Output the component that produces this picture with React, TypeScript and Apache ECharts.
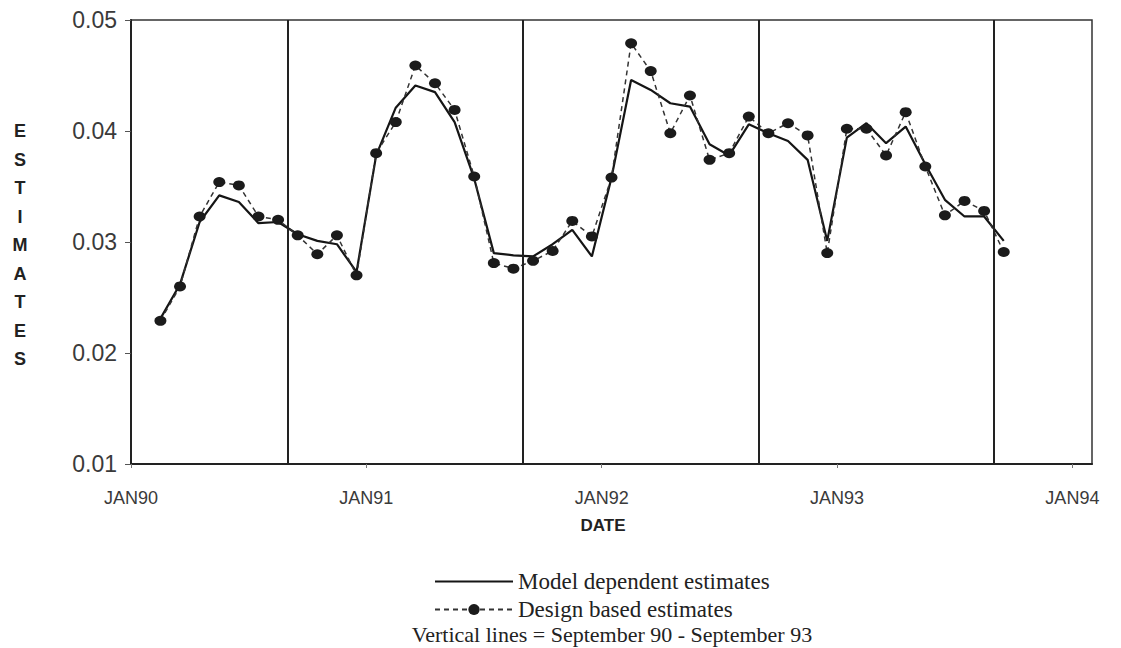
import React, { useEffect, useRef } from "react";
import * as echarts from "echarts";

// Observation months (mid-month points)
const months = [
  "1990-02", "1990-03", "1990-04", "1990-05", "1990-06", "1990-07", "1990-08", "1990-09", "1990-10", "1990-11", "1990-12",
  "1991-01", "1991-02", "1991-03", "1991-04", "1991-05", "1991-06", "1991-07", "1991-08", "1991-09", "1991-10", "1991-11", "1991-12",
  "1992-01", "1992-02", "1992-03", "1992-04", "1992-05", "1992-06", "1992-07", "1992-08", "1992-09", "1992-10", "1992-11", "1992-12",
  "1993-01", "1993-02", "1993-03", "1993-04", "1993-05", "1993-06", "1993-07", "1993-08", "1993-09",
];

const modelDependent = [
  0.0231, 0.0262, 0.0318, 0.0342, 0.0336, 0.0317, 0.0318, 0.0307, 0.0301, 0.0298, 0.0273,
  0.0378, 0.0421, 0.0441, 0.0435, 0.0408, 0.0357, 0.0290, 0.0288, 0.0287, 0.0298, 0.0311, 0.0287,
  0.0358, 0.0446, 0.0437, 0.0425, 0.0422, 0.0388, 0.0378, 0.0406, 0.0398, 0.0391, 0.0374, 0.0301,
  0.0394, 0.0407, 0.0389, 0.0404, 0.0370, 0.0338, 0.0323, 0.0323, 0.0301,
];

const designBased = [
  0.0229, 0.0260, 0.0323, 0.0354, 0.0351, 0.0323, 0.0320, 0.0306, 0.0289, 0.0306, 0.0270,
  0.0380, 0.0408, 0.0459, 0.0443, 0.0419, 0.0359, 0.0281, 0.0276, 0.0283, 0.0292, 0.0319, 0.0305,
  0.0358, 0.0479, 0.0454, 0.0398, 0.0432, 0.0374, 0.0380, 0.0413, 0.0398, 0.0407, 0.0396, 0.0290,
  0.0402, 0.0402, 0.0378, 0.0417, 0.0368, 0.0324, 0.0337, 0.0328, 0.0291,
];

const septemberLines = ["1990-09", "1991-09", "1992-09", "1993-09"];
const xTickLabels = ["JAN90", "JAN91", "JAN92", "JAN93", "JAN94"];
const yTickLabels = ["0.01", "0.02", "0.03", "0.04", "0.05"];

const seriesNames = ["Model dependent estimates", "Design based estimates"];
const noteText = "Vertical lines = September 90 - September 93";

// month start index since Jan 1990
const monthStart = (s: string) => {
  const [y, m] = s.split("-").map(Number);
  return (y - 1990) * 12 + (m - 1);
};
const midMonth = (s: string) => monthStart(s) + 0.5;

const SANS = "'Liberation Sans', Arial, Helvetica, sans-serif";
const SERIF = "'Liberation Serif', 'Times New Roman', serif";

export default function App() {
  const ref = useRef<HTMLDivElement>(null);

  useEffect(() => {
    if (!ref.current) return;
    const chart = echarts.init(ref.current, undefined, { renderer: "svg" });
    const modelData = months.map((m, i) => [midMonth(m), modelDependent[i]]);
    const designData = months.map((m, i) => [midMonth(m), designBased[i]]);

    chart.setOption({
      animation: false,
      backgroundColor: "#ffffff",
      grid: {
        left: 131,
        right: 29,
        top: 20,
        bottom: 184,
        show: true,
        borderColor: "#333",
        borderWidth: 1.5,
        backgroundColor: "transparent",
      },
      xAxis: {
        type: "value",
        min: 0,
        max: 49,
        interval: 12,
        axisLine: { show: true, onZero: false, lineStyle: { color: "#222", width: 2 } },
        axisTick: { show: true, length: 4, lineStyle: { color: "#777", width: 1 } },
        splitLine: { show: false },
        axisLabel: {
          margin: 25,
          fontSize: 18,
          color: "#3a3a3a",
          fontFamily: SANS,
          showMaxLabel: false,
          formatter: (v: number) => xTickLabels[Math.round(v / 12)] ?? "",
        },
      },
      yAxis: {
        type: "value",
        min: 0.01,
        max: 0.05,
        interval: 0.01,
        axisLine: { show: true, lineStyle: { color: "#222", width: 2 } },
        axisTick: { show: true, length: 6, lineStyle: { color: "#555", width: 1 } },
        splitLine: { show: false },
        axisLabel: {
          margin: 14,
          fontSize: 23,
          color: "#3a3a3a",
          fontFamily: SANS,
          formatter: (v: number) => yTickLabels[Math.round((v - 0.01) / 0.01)] ?? "",
        },
      },
      legend: {
        orient: "vertical",
        left: 429,
        top: 565,
        itemWidth: 78,
        itemHeight: 14,
        itemGap: 5,
        selectedMode: false,
        data: [
          { name: seriesNames[0], itemStyle: { opacity: 0 } },
          { name: seriesNames[1] },
        ],
        textStyle: { fontFamily: SERIF, fontSize: 23, color: "#222", lineHeight: 23 },
      },
      graphic: [
        {
          type: "text",
          x: 20,
          y: 245,
          style: {
            text: "E\nS\nT\nI\nM\nA\nT\nE\nS",
            font: `bold 18px ${SANS}`,
            lineHeight: 28.5,
            fill: "#222",
            align: "center",
            verticalAlign: "middle",
          },
        },
        {
          type: "text",
          x: 603,
          y: 525,
          style: {
            text: "DATE",
            font: `bold 17px ${SANS}`,
            fill: "#222",
            align: "center",
            verticalAlign: "middle",
          },
        },
        {
          type: "text",
          x: 612,
          y: 634,
          style: {
            text: noteText,
            font: `22px ${SERIF}`,
            fill: "#222",
            align: "center",
            verticalAlign: "middle",
          },
        },
      ],
      series: [
        {
          name: seriesNames[0],
          type: "line",
          data: modelData,
          symbol: "none",
          lineStyle: { color: "#151515", width: 2.2, type: "solid" },
          itemStyle: { color: "#151515" },
          z: 3,
          markLine: {
            silent: true,
            symbol: ["none", "none"],
            label: { show: false },
            lineStyle: { color: "#222", width: 2, type: "solid" },
            data: septemberLines.map((s) => ({ xAxis: monthStart(s) })),
          },
        },
        {
          name: seriesNames[1],
          type: "line",
          data: designData,
          symbol: "circle",
          symbolSize: [12, 10],
          lineStyle: { color: "#333", width: 1.5, type: [5, 4] },
          itemStyle: { color: "#1b1b1b" },
          z: 4,
        },
      ],
    });

    return () => chart.dispose();
  }, []);

  return (
    <div
      ref={ref}
      style={{ position: "fixed", left: 0, top: 0, width: 1121, height: 648, background: "#fff" }}
    />
  );
}
